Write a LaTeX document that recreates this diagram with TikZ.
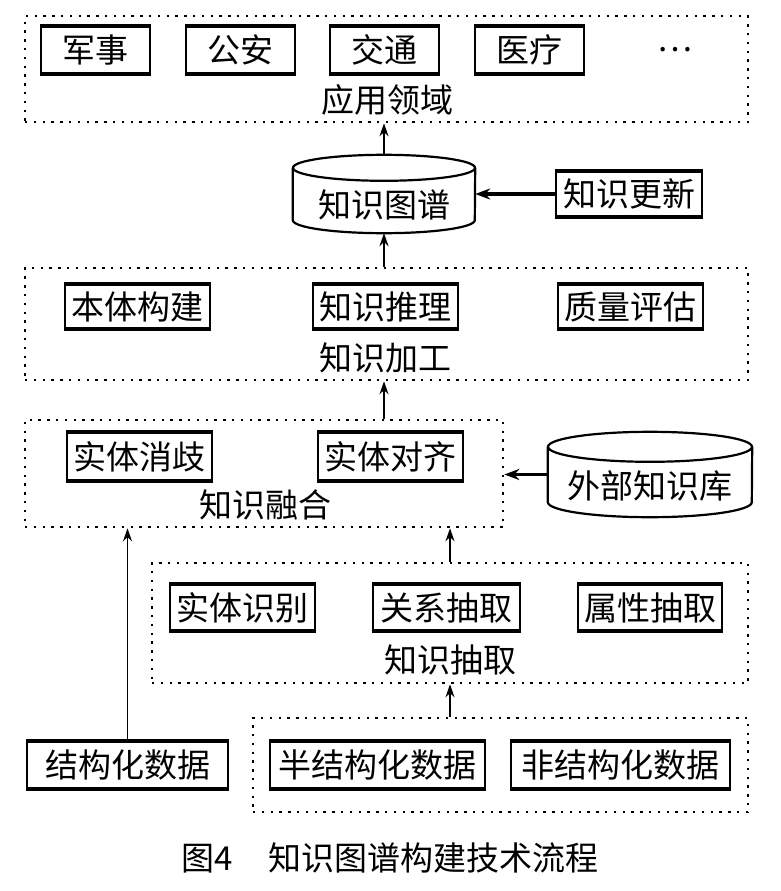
\documentclass[tikz,border=0pt]{standalone}
\usepackage{fontspec}
\newfontfamily\cjk{Noto Sans CJK SC}
\usetikzlibrary{arrows.meta,calc}
\begin{document}
\begin{tikzpicture}[x=1pt,y=1pt,
  txt/.style={font=\cjk\fontsize{33}{33}\selectfont, inner sep=0pt},
  boxn/.style={txt, draw, line width=1.6pt, minimum height=46pt,
    append after command={
      (\tikzlastnode.north west) edge[line width=3.6pt,-] (\tikzlastnode.north east)
      (\tikzlastnode.south west) edge[line width=3.6pt,-] (\tikzlastnode.south east)}},
  frame/.style={draw, line width=2.6pt, dash pattern=on 2.4pt off 6.4pt, inner sep=0pt},
  cylbase/.style={inner sep=0pt},
  cyl/.style={line width=2.2pt},
  arr/.style={line width=1.8pt, -{Stealth[length=13pt,width=9pt]}},
  tarr/.style={line width=3.4pt, -{Stealth[length=15pt,width=11pt]}}
]
\useasboundingbox (0,0) rectangle (780,-891);

% ---- application frame
\node[frame, minimum width=723pt, minimum height=106pt] (app) at (386.5,-69) {};
\node[boxn, minimum width=109pt] (b1) at (95.5,-50) {军事};
\node[boxn, minimum width=109pt] (b2) at (240.5,-50) {公安};
\node[boxn, minimum width=109pt] (b3) at (384.5,-50) {交通};
\node[boxn, minimum width=109pt] (b4) at (529.5,-50) {医疗};
\node[txt] (dots) at (675,-50) {…};
\node[txt] (appl) at (387,-100) {应用领域};

% ---- knowledge graph cylinder
\node[cylbase, minimum width=182pt, minimum height=78pt] (kg) at (384,-194) {};
\draw[cyl] ($(kg.north west)+(0,-13)$) -- ($(kg.south west)+(0,13)$)
  arc[start angle=180, end angle=360, x radius=91pt, y radius=13pt]
  -- ($(kg.north east)+(0,-13)$);
\draw[cyl] ($(kg.north)+(0,-13)$) ellipse[x radius=91pt, y radius=13pt];
\node[txt] (kgl) at (384,-205) {知识图谱};

\node[boxn, minimum width=146pt, minimum height=44pt] (upd) at (629,-194) {知识更新};

% ---- processing frame
\node[frame, minimum width=723pt, minimum height=112pt] (proc) at (386.5,-324) {};
\node[boxn, minimum width=145pt, minimum height=43pt] (p1) at (137.5,-306.5) {本体构建};
\node[boxn, minimum width=145pt, minimum height=43pt] (p2) at (385.5,-306.5) {知识推理};
\node[boxn, minimum width=145pt, minimum height=43pt] (p3) at (630.5,-306.5) {质量评估};
\node[txt] (procl) at (385,-358) {知识加工};

% ---- fusion frame
\node[frame, minimum width=478pt, minimum height=107pt] (fuse) at (264,-473.5) {};
\node[boxn, minimum width=145pt, minimum height=47pt] (f1) at (139.5,-456.5) {实体消歧};
\node[boxn, minimum width=145pt, minimum height=47pt] (f2) at (390.5,-456.5) {实体对齐};
\node[txt] (fusel) at (265,-505) {知识融合};

% ---- external KB cylinder
\node[cylbase, minimum width=204pt, minimum height=85pt] (ext) at (650,-474.5) {};
\draw[cyl] ($(ext.north west)+(0,-15)$) -- ($(ext.south west)+(0,15)$)
  arc[start angle=180, end angle=360, x radius=102pt, y radius=15pt]
  -- ($(ext.north east)+(0,-15)$);
\draw[cyl] ($(ext.north)+(0,-15)$) ellipse[x radius=102pt, y radius=15pt];
\node[txt] (extl) at (650,-486) {外部知识库};

% ---- extraction frame
\node[frame, minimum width=596pt, minimum height=120pt] (extr) at (450,-623) {};
\node[boxn, minimum width=145pt, minimum height=45pt] (e1) at (242.5,-607.5) {实体识别};
\node[boxn, minimum width=147pt, minimum height=45pt] (e2) at (446.5,-607.5) {关系抽取};
\node[boxn, minimum width=144pt, minimum height=45pt] (e3) at (650,-607.5) {属性抽取};
\node[txt] (extrl) at (450,-660) {知识抽取};

% ---- data
\node[frame, minimum width=495pt, minimum height=94pt] (data) at (500.5,-765) {};
\node[boxn, minimum width=201pt] (d0) at (127.5,-765) {结构化数据};
\node[boxn, minimum width=215pt] (d1) at (377.5,-765) {半结构化数据};
\node[boxn, minimum width=219pt] (d2) at (620.5,-765) {非结构化数据};

% ---- caption
\node[txt] (cap) at (390,-858) {图4\hspace{36pt}知识图谱构建技术流程};

% ---- connectors
\draw[arr] (kg.north) -- (kg.north |- app.south);
\draw[arr] (kg.south |- proc.north) -- (kg.south);
\draw[arr] (fuse.north -| kg.south) -- (kg.south |- proc.south);
\draw[tarr] (upd.west) -- (upd.west -| kg.east);
\draw[tarr] (ext.west) -- (ext.west -| fuse.east);
\draw[arr] (d0.north) -- (d0.north |- fuse.south);
\draw[arr] (extr.north) -- (extr.north |- fuse.south);
\draw[arr] (extr.south |- data.north) -- (extr.south);
\end{tikzpicture}
\end{document}
